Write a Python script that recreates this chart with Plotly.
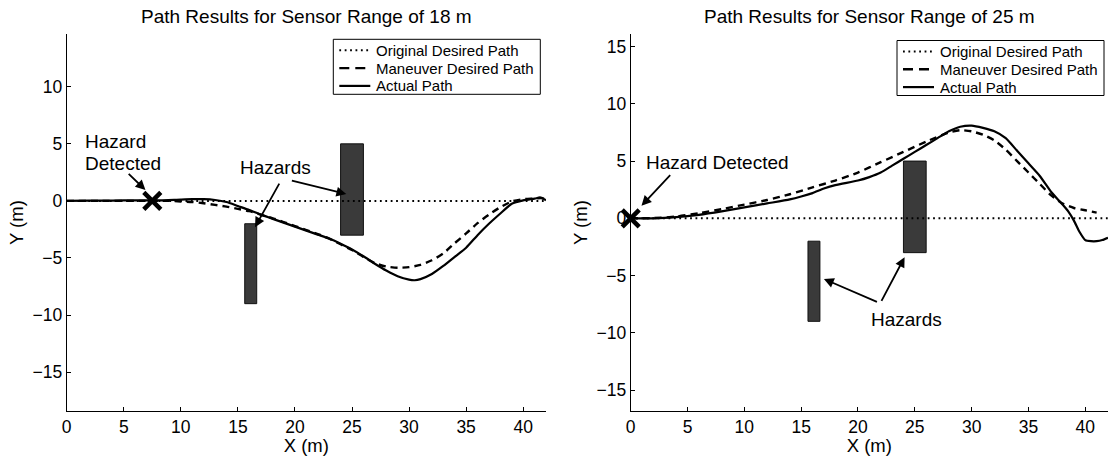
import plotly.graph_objects as go

# ---- data -------------------------------------------------------------
# Sensor range 18 m
orig18_x = [0, 42]
orig18_y = [0, 0]
man18_x = [0, 3, 6, 9, 10, 11, 12, 13, 14, 15, 16, 17, 18, 19, 20, 21, 22, 23,
           24, 25, 26, 27, 28, 29, 30, 31, 32, 33, 34, 35, 36, 37, 38, 39, 40,
           41, 41.6, 42]
man18_y = [0, 0, 0, 0, -0.05, -0.1, -0.2, -0.35, -0.5, -0.7, -0.9, -1.2, -1.5,
           -1.85, -2.2, -2.55, -2.9, -3.3, -3.8, -4.3, -4.9, -5.45, -5.75, -5.85,
           -5.8, -5.6, -5.2, -4.6, -3.7, -2.85, -1.95, -1.2, -0.55, -0.05, 0.15,
           0.2, 0.25, 0.1]
act18_x = [0, 2, 4, 6, 8, 10, 11, 12, 13, 14, 15, 16, 17, 18, 19, 20, 21, 22,
           23, 24, 25, 26, 27, 28, 29, 30, 30.5, 31, 32, 33, 34, 35, 36, 37, 38,
           39, 40, 41, 41.5, 42]
act18_y = [0, 0.02, 0.03, 0.05, 0.05, 0.12, 0.15, 0.15, 0.08, -0.1, -0.45, -0.8,
           -1.2, -1.55, -1.9, -2.25, -2.6, -2.95, -3.3, -3.75, -4.25, -4.85, -5.5,
           -6.1, -6.6, -6.9, -6.95, -6.85, -6.4, -5.7, -4.9, -4.1, -3.0, -2.0,
           -1.1, -0.25, 0.05, 0.2, 0.3, 0.05]
detect18 = (7.5, 0)

# Sensor range 25 m
orig25_x = [0, 42]
orig25_y = [0, 0]
man25_x = [0, 2, 4, 6, 8, 10, 12, 14, 16, 18, 20, 22, 24, 26, 28, 29, 30, 31,
           32, 33, 34, 35, 36, 37, 38, 39, 40, 41]
man25_y = [0, 0.02, 0.15, 0.45, 0.8, 1.2, 1.6, 2.1, 2.7, 3.3, 4.0, 4.9, 5.8,
           6.7, 7.5, 7.7, 7.6, 7.3, 6.8, 6.0, 5.0, 4.0, 3.0, 2.0, 1.3, 0.9, 0.7,
           0.5]
act25_x = [0, 2, 4, 6, 8, 10, 12, 14, 15, 16, 17, 18, 20, 21, 22, 23, 24, 25,
           26, 27, 28, 29, 30, 31, 32, 33, 34, 35, 36, 37, 38, 38.5, 39, 39.5,
           40, 40.5, 41, 41.5, 42]
act25_y = [0, 0.0, 0.1, 0.3, 0.6, 0.95, 1.3, 1.65, 1.9, 2.2, 2.6, 2.9, 3.3, 3.6,
           4.0, 4.6, 5.2, 5.8, 6.4, 7.0, 7.6, 8.0, 8.1, 7.9, 7.6, 7.0, 5.9, 4.8,
           3.7, 2.3, 1.2, 0.6, -0.2, -1.2, -1.9, -2.0, -2.0, -1.9, -1.7]
detect25 = (0, 0)

# Hazard rectangles: (x0, x1, y0, y1), same for both runs
hazard_x0 = [15.6, 24.0]
hazard_x1 = [16.65, 26.0]
hazard_y0 = [-9.0, -3.0]
hazard_y1 = [-2.0, 5.0]

x_ticks = [0, 5, 10, 15, 20, 25, 30, 35, 40]
y_ticks18 = [-15, -10, -5, 0, 5, 10]
y_ticks25 = [-15, -10, -5, 0, 5, 10, 15]

series_names = ["Original Desired Path", "Maneuver Desired Path", "Actual Path"]

FONT = "Liberation Sans, Arial, Helvetica, sans-serif"
W, H = 1111, 456

DOT = dict(color="black", width=2, dash="1.8px,3.6px")
DASH = dict(color="black", width=2.4, dash="7px,5px")
SOLID = dict(color="black", width=2.2)
# legend samples use a longer dash so two dashes fill the key
key_styles = [DOT, DASH | dict(dash="10px,6px"), SOLID]

fig = go.Figure()


def add_paths(xa, ya, ox, oy, mx, my, axx, axy, det):
    fig.add_trace(go.Scatter(x=ox, y=oy, mode="lines", name=series_names[0],
                             line=DOT, xaxis=xa, yaxis=ya))
    fig.add_trace(go.Scatter(x=mx, y=my, mode="lines", name=series_names[1],
                             line=DASH | dict(shape="spline", smoothing=0.6),
                             xaxis=xa, yaxis=ya))
    fig.add_trace(go.Scatter(x=axx, y=axy, mode="lines", name=series_names[2],
                             line=SOLID | dict(shape="spline", smoothing=0.6),
                             xaxis=xa, yaxis=ya))
    fig.add_trace(go.Scatter(x=[det[0]], y=[det[1]], mode="markers",
                             marker=dict(symbol="x-thin", size=17, color="black",
                                         line=dict(color="black", width=4.5)),
                             cliponaxis=False, xaxis=xa, yaxis=ya))
    for x0, x1, y0, y1 in zip(hazard_x0, hazard_x1, hazard_y0, hazard_y1):
        fig.add_shape(type="rect", xref=xa, yref=ya, x0=x0, x1=x1, y0=y0, y1=y1,
                      fillcolor="#3a3a3a", line=dict(color="#111111", width=1),
                      layer="below")


add_paths("x", "y", orig18_x, orig18_y, man18_x, man18_y, act18_x, act18_y, detect18)
add_paths("x2", "y2", orig25_x, orig25_y, man25_x, man25_y, act25_x, act25_y, detect25)


def axis_style(domain, rng, ticks, title, standoff):
    return dict(domain=domain, range=rng, tickvals=ticks, showline=True,
                linecolor="black", linewidth=1, ticks="inside", ticklen=4,
                tickcolor="black", showgrid=False, zeroline=False,
                automargin=False, tickfont=dict(size=17.5, color="black"),
                title=dict(text=title, standoff=standoff,
                           font=dict(size=18.5, color="black")))


lx0, lx1 = 66.7 / W, 546 / W
rx0, rx1 = 630.7 / W, 1108 / W
yb, yt = (H - 411.2) / H, (H - 34) / H

fig.update_layout(
    width=W, height=H,
    margin=dict(l=0, r=0, t=0, b=0),
    paper_bgcolor="white", plot_bgcolor="white",
    font=dict(family=FONT, color="black"),
    showlegend=False,
    xaxis=axis_style([lx0, lx1], [0, 42], x_ticks, "X (m)", 3) | dict(anchor="y"),
    yaxis=axis_style([yb, yt], [-18.42, 14.62], y_ticks18, "Y (m)", 4) | dict(anchor="x"),
    xaxis2=axis_style([rx0, rx1], [0, 42], x_ticks, "X (m)", 3) | dict(anchor="y2"),
    yaxis2=axis_style([yb, yt], [-16.85, 16.1], y_ticks25, "Y (m)", 4) | dict(anchor="x2"),
)


# Legend box in pixel units (converted to paper fractions)
def legend_box(left, top):
    px = lambda v: v / W
    py = lambda v: 1 - v / H
    width, height = 207, 55
    fig.add_shape(type="rect", xref="paper", yref="paper",
                  x0=px(left), x1=px(left + width), y0=py(top), y1=py(top + height),
                  fillcolor="white", line=dict(color="black", width=1))
    for i, (name, st) in enumerate(zip(series_names, key_styles)):
        yy = top + 11 + i * 17.8
        fig.add_shape(type="line", xref="paper", yref="paper",
                      x0=px(left + 6), x1=px(left + 37), y0=py(yy), y1=py(yy),
                      line=st)
        fig.add_annotation(text=name, xref="paper", yref="paper",
                           x=px(left + 41), y=py(yy), xanchor="left", yanchor="middle",
                           showarrow=False, font=dict(size=15, color="black"))


legend_box(333.3, 39.3)
legend_box(897, 40.5)

# Panel titles
for cx, txt in [((lx0 + lx1) / 2, "Path Results for Sensor Range of 18 m"),
                ((rx0 + rx1) / 2, "Path Results for Sensor Range of 25 m")]:
    fig.add_annotation(text=txt, xref="paper", yref="paper", x=cx, y=1 - 16 / H,
                       showarrow=False, font=dict(size=19),
                       xanchor="center", yanchor="middle")

LBL = dict(size=19, color="black")


def label(xa, ya, x, y, text, anchor="center"):
    fig.add_annotation(xref=xa, yref=ya, x=x, y=y, text=text, showarrow=False,
                       font=LBL, xanchor=anchor, yanchor="middle")


def arrow(xa, ya, tail, tip):
    fig.add_annotation(xref=xa, yref=ya, axref=xa, ayref=ya, x=tip[0], y=tip[1],
                       ax=tail[0], ay=tail[1], text="", showarrow=True,
                       arrowhead=2, arrowsize=1.1, arrowwidth=1.8, arrowcolor="black")


# Left panel callouts
label("x", "y", 1.4, 5.18, "Hazard", "left")
label("x", "y", 1.4, 3.28, "Detected", "left")
arrow("x", "y", (5.3, 2.5), (6.9, 0.95))
label("x", "y", 18.3, 2.92, "Hazards")
arrow("x", "y", (18.7, 1.65), (16.5, -2.3))
arrow("x", "y", (19.6, 1.8), (24.5, 0.6))

# Right panel callouts
label("x2", "y2", 1.2, 4.9, "Hazard Detected", "left")
arrow("x2", "y2", (3.6, 3.9), (0.95, 1.1))
label("x2", "y2", 24.3, -8.8, "Hazards")
arrow("x2", "y2", (21.8, -7.35), (17.0, -5.3))
arrow("x2", "y2", (22.0, -7.35), (24.1, -3.4))

fig.write_html("out.html")
